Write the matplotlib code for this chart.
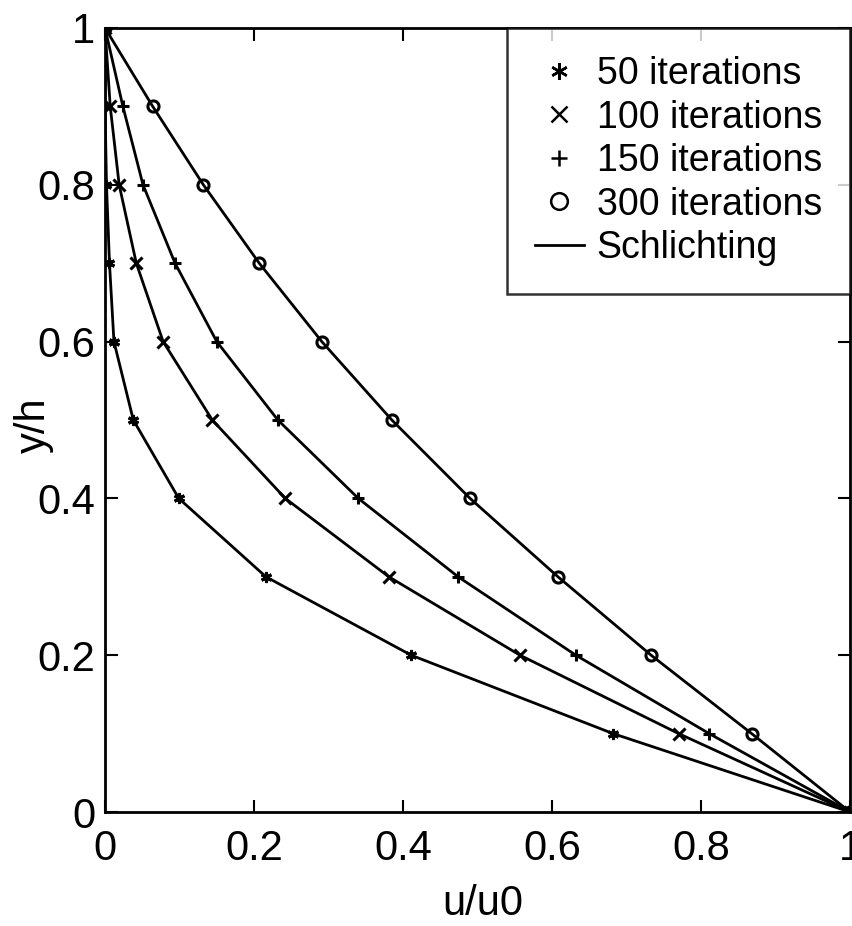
import matplotlib
matplotlib.use('Agg')
import matplotlib.pyplot as plt

# Datos: y/h y u/u0 para cada número de iteraciones
y_h = [1.0, 0.9, 0.8, 0.7, 0.6, 0.5, 0.4, 0.3, 0.2, 0.1, 0.0]
u_50 = [0.0, 0.0, 0.002, 0.006, 0.012, 0.038, 0.099, 0.216, 0.411, 0.682, 1.0]
u_100 = [0.0, 0.007, 0.019, 0.042, 0.078, 0.144, 0.242, 0.381, 0.557, 0.770, 1.0]
u_150 = [0.0, 0.024, 0.051, 0.094, 0.150, 0.232, 0.340, 0.474, 0.632, 0.811, 1.0]
u_300 = [0.0, 0.064, 0.132, 0.207, 0.291, 0.385, 0.490, 0.608, 0.733, 0.868, 1.0]

series = [
    (u_50, '50 iterations', (6, 2, 0)),
    (u_100, '100 iterations', 'x'),
    (u_150, '150 iterations', '+'),
    (u_300, '300 iterations', 'o'),
]

xticks = [0, 0.2, 0.4, 0.6, 0.8, 1]
yticks = [0, 0.2, 0.4, 0.6, 0.8, 1]
tick_labels = ['0', '0.2', '0.4', '0.6', '0.8', '1']

plt.rcParams['font.family'] = 'Liberation Sans'

fig = plt.figure(figsize=(8.53, 9.26), dpi=100)
ax = fig.add_axes([0.1231, 0.1231, 0.8734, 0.8467])

# Curvas de Schlichting
for i, (u, lab, mk) in enumerate(series):
    ax.plot(u, y_h, color='black', linewidth=2.0,
            label='Schlichting' if i == 0 else '_nolegend_', zorder=2)
line_h = ax.get_lines()[0]

# Marcadores de cada número de iteraciones
handles = []
for u, lab, mk in series:
    h, = ax.plot(u, y_h, linestyle='none', marker=mk, color='black',
                 markersize=8, markeredgewidth=2.2, fillstyle='none', label=lab, zorder=3)
    handles.append(h)

ax.set_xlim(0, 1)
ax.set_ylim(0, 1)
ax.set_xticks(xticks)
ax.set_yticks(yticks)
ax.set_xticklabels(tick_labels)
ax.set_yticklabels(tick_labels)
ax.tick_params(direction='in', length=9, width=1.5, top=True, right=True, labelsize=30)
ax.tick_params(axis='x', pad=12)
ax.tick_params(axis='y', pad=7)
for s in ax.spines.values():
    s.set_linewidth(2)

ax.set_xlabel('u/u0', fontsize=30, va='top')
ax.xaxis.set_label_coords(0.507, -0.092)
ax.set_ylabel('y/h', fontsize=30)
ax.yaxis.set_label_coords(-0.068, 0.494)

leg = ax.legend(handles + [line_h], [h.get_label() for h in handles] + ['Schlichting'],
                loc='upper right', bbox_to_anchor=(1.0, 1.0), borderaxespad=0,
                fontsize=27, frameon=True, fancybox=False, edgecolor='black',
                handlelength=1.3, handletextpad=0.35, labelspacing=0.2,
                markerscale=1.5, borderpad=0.75)
leg.get_frame().set_linewidth(1.8)
for lh in leg.legend_handles[:4]:
    lh.set_markeredgewidth(1.8)

fig.savefig('out.png', dpi=100)
